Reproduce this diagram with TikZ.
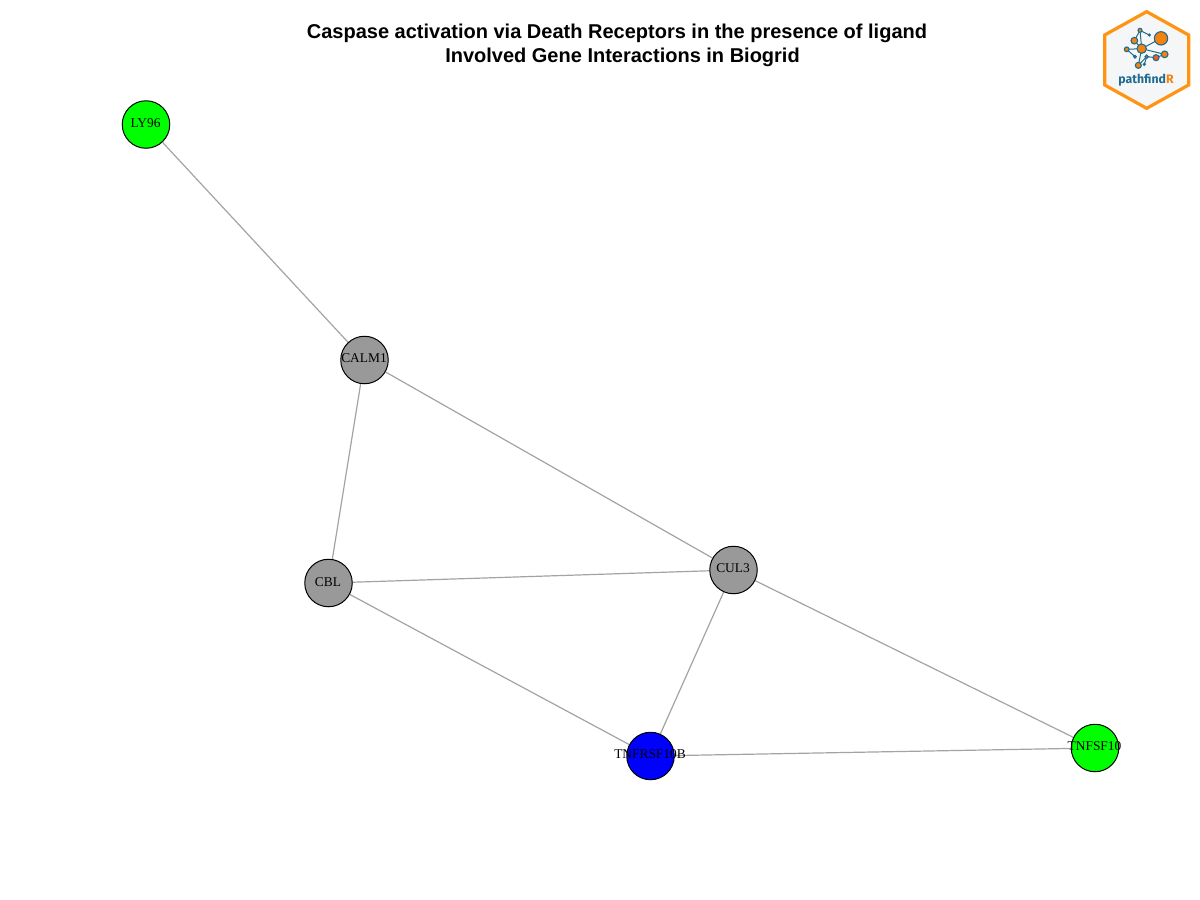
\documentclass[tikz,border=0pt]{standalone}
\usepackage{fontspec}
\usepackage{xcolor}
\setmainfont{Liberation Serif}
\newfontfamily\titlefont[Kerning=Off]{Liberation Sans}
\newfontfamily\logofont{Fira Sans}
\usetikzlibrary{backgrounds}

\definecolor{logoorange}{HTML}{F5820D}
\definecolor{logoblue}{HTML}{1F6C8F}
\definecolor{logored}{HTML}{F15A24}
\definecolor{logopale}{HTML}{F4F6F8}
\definecolor{hexorange}{HTML}{FF9412}

\tikzset{
	gene/.style={circle,draw=black,line width=1pt,minimum size=47.5pt,inner sep=0pt},
	genename/.style={font=\fontsize{13.4}{15}\selectfont,text=black,xshift=-0.5pt,yshift=1.6pt},
	link/.style={draw=black!36,line width=1.2pt},
	headline/.style={font=\titlefont\bfseries\fontsize{20}{24}\selectfont},
	dot/.style={draw=logoblue,fill=logoorange,line width=1.1pt},
	spoke/.style={draw=logoblue,line width=1pt},
}

\begin{document}
\begin{tikzpicture}[x=1pt,y=-1pt]
	\useasboundingbox (0,0) rectangle (1200,900);
	% title
	\node (title) [headline] at (617,33) {Caspase activation via Death Receptors in the presence of ligand};
	\node (subtitle) [headline] at (622.5,57) {Involved Gene Interactions in Biogrid};
	% genes
	\node (LY96) [gene,fill=green,label={[genename]center:LY96}] at (146,124.5) {};
	\node (CALM1) [gene,fill=black!40,label={[genename]center:CALM1}] at (364.5,360) {};
	\node (CBL) [gene,fill=black!40,label={[genename,yshift=-1pt]center:CBL}] at (328.5,583) {};
	\node (CUL3) [gene,fill=black!40,label={[genename]center:CUL3}] at (733.5,570) {};
	\node (TNFRSF10B) [gene,fill=blue,label={[genename]center:TNFRSF10B}] at (650.5,756) {};
	\node (TNFSF10) [gene,fill=green,label={[genename]center:TNFSF10}] at (1095,748) {};
	% interactions
	\begin{scope}[on background layer]
		\draw [link] (LY96) -- (CALM1);
		\draw [link] (CALM1) -- (CBL);
		\draw [link] (CALM1) -- (CUL3);
		\draw [link] (CBL) -- (CUL3);
		\draw [link] (CBL) -- (TNFRSF10B);
		\draw [link] (CUL3) -- (TNFRSF10B);
		\draw [link] (CUL3) -- (TNFSF10);
		\draw [link] (TNFRSF10B) -- (TNFSF10);
	\end{scope}
	% logo
	\begin{scope}[shift={(1090,0)},scale=1/3]
		\draw [draw=hexorange,fill=logopale,line width=3.2pt,line join=miter]
			(170,35) -- (296,105) -- (296,255) -- (170,325) -- (44,255) -- (44,105) -- cycle;
		\draw [spoke] (155,146) -- (213,115);
		\draw [spoke] (155,146) -- (133,122) -- (150,91) -- (178,105);
		\draw [spoke] (150,91) -- (155,146);
		\draw [spoke] (155,146) -- (110,148);
		\draw [spoke] (110,148) -- (135,170);
		\draw [spoke] (155,146) -- (145,196) -- (170,170) -- (198,173) -- (224,163);
		\draw [spoke] (155,146) -- (224,163);
		\draw [spoke] (170,170) -- (163,193);
		\draw [dot] (213,115) circle (20);
		\draw [dot] (155,146) circle (14);
		\draw [dot] (133,122) circle (10);
		\draw [dot] (150,91) circle (6);
		\draw [dot,fill=logoblue] (178,105) circle (3);
		\draw [dot] (110,148) circle (7);
		\draw [dot] (135,170) circle (4);
		\draw [dot] (145,196) circle (9);
		\draw [dot,fill=logored] (170,170) circle (5);
		\draw [dot,fill=logored] (163,193) circle (3);
		\draw [dot,fill=logored] (198,173) circle (9);
		\draw [dot] (224,163) circle (10);
	\end{scope}
	\node (logoname) [font=\logofont\bfseries\fontsize{12.3}{14}\selectfont,inner sep=0pt] at (1146,80)
		{\textcolor{logoblue}{pathfind}\textcolor{logoorange}{R}};
\end{tikzpicture}
\end{document}
